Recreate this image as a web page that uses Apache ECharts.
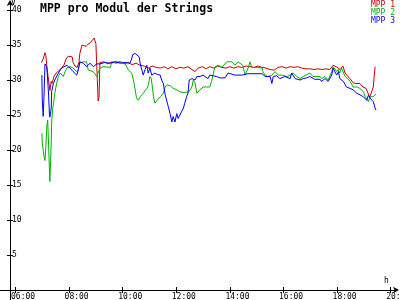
<!DOCTYPE html>
<html><head><meta charset="utf-8">
<script src="https://cdn.jsdelivr.net/npm/echarts@6/dist/echarts.min.js"></script>
<style>html,body{margin:0;padding:0;background:#fff}#c{width:400px;height:300px}</style>
</head><body><div id="c"></div>
<script>
// time in minutes since midnight, values in V
const redTime = [418,422,426,428,430,433,435,437,440,442,446,451,455,460,464,469,473,478,482,487,489,493,498,502,504,509,513,518,522,527,531,536,538,540,542,545,547,549,558,567,576,585,594,603,612,621,630,639,648,657,666,675,684,693,701,710,719,728,737,746,755,762,769,778,787,795,804,813,822,831,840,849,858,867,876,885,894,903,912,921,930,939,948,957,966,975,984,992,1001,1010,1019,1028,1037,1046,1055,1064,1071,1078,1087,1093,1098,1104,1109,1116,1122,1131,1138,1145,1149,1153,1157,1161,1165];
const redVal  = [32.5,33.0,33.9,33.5,32.0,30.5,29.5,28.5,29.8,29.5,30.5,31.0,31.2,31.5,31.8,32.2,33.0,33.4,33.6,33.3,32.5,32.0,31.8,32.5,33.8,35.0,35.0,34.8,35.1,35.3,35.6,36.0,35.8,35.2,32.0,27.0,27.5,32.5,32.6,32.3,32.6,32.4,32.6,32.3,32.5,32.2,32.4,32.1,32.0,31.7,32.0,31.8,31.7,31.9,31.6,31.9,31.6,31.8,31.7,31.9,31.5,31.2,31.7,31.9,31.6,31.9,31.7,32.0,31.8,31.7,31.9,31.7,31.9,31.8,32.0,31.9,31.8,32.0,31.8,31.7,31.5,31.4,31.8,31.9,31.7,31.9,31.8,31.9,31.7,31.6,31.6,31.5,31.6,31.5,31.6,31.5,32.1,31.9,31.5,32.0,31.0,30.5,30.2,29.6,29.5,29.5,29.0,28.8,28.8,27.5,27.4,29.0,31.9];

const greenTime = [419,420,422,424,426,428,430,432,434,436,437,440,441,443,445,446,448,452,456,460,464,467,471,475,482,489,497,500,504,512,519,523,527,534,542,545,549,556,572,575,583,594,605,613,620,624,628,631,635,639,646,654,657,661,664,669,672,677,684,691,695,699,706,713,721,728,739,748,755,758,762,766,769,773,780,788,795,799,803,807,814,822,833,845,851,858,869,874,878,882,885,889,901,912,914,919,925,934,941,948,957,968,975,981,990,997,1004,1019,1026,1042,1045,1053,1060,1068,1071,1075,1079,1082,1086,1090,1093,1098,1104,1109,1116,1125,1131,1139,1143,1147,1150,1154,1158,1161,1167];
const greenVal  = [22.4,21.0,20.0,19.0,18.5,20.5,23.3,24.3,21.0,17.1,15.5,21.0,24.0,25.7,26.7,27.1,28.1,29.5,30.5,31.0,31.0,30.5,31.2,31.7,31.9,31.7,31.2,31.5,32.4,32.6,32.6,31.4,31.4,31.2,30.5,30.5,31.7,31.9,31.8,32.4,32.6,32.6,32.4,31.4,31.0,30.0,28.6,27.4,27.1,27.6,28.1,28.8,29.2,30.5,30.2,27.6,26.7,27.1,27.6,28.1,29.0,29.3,29.2,28.8,28.6,28.3,28.2,28.3,29.0,30.0,29.6,28.1,27.9,28.6,29.0,29.0,29.0,29.8,31.0,31.9,32.1,31.8,32.6,32.6,32.1,32.6,32.1,30.7,30.7,31.9,32.6,31.8,31.8,31.7,31.2,30.7,30.5,30.7,31.2,30.7,30.7,30.5,30.7,31.0,30.5,30.2,30.5,31.0,30.5,30.5,30.2,30.5,30.0,31.2,31.9,31.9,31.2,31.5,31.0,31.7,31.5,30.5,30.2,29.8,29.0,29.0,28.8,28.3,27.6,27.3,26.9,27.6,27.4,27.6,28.0];

const blueTime = [419,420,422,424,426,430,432,434,436,437,440,441,445,448,452,456,460,463,467,475,482,489,497,501,504,512,519,527,534,542,549,560,572,583,594,605,616,620,622,628,631,637,639,643,646,650,654,657,661,665,669,672,677,684,687,691,695,699,702,706,710,713,717,721,724,728,732,736,739,743,746,749,755,762,766,773,780,791,795,810,818,829,836,851,867,881,896,912,919,930,934,937,945,952,963,975,978,986,997,1004,1012,1019,1030,1042,1045,1053,1060,1064,1068,1071,1075,1079,1083,1086,1090,1094,1101,1109,1116,1124,1131,1139,1146,1150,1154,1157,1161,1165,1167];
const blueVal  = [30.7,27.0,24.8,28.0,32.3,31.9,30.0,28.0,25.0,24.7,26.0,28.4,29.5,30.0,30.2,31.0,31.2,31.7,31.9,32.1,31.7,31.2,30.7,31.5,32.6,32.4,31.9,32.4,31.9,32.3,32.3,32.5,32.4,32.6,32.4,32.5,32.4,33.0,33.6,33.8,33.8,33.3,32.4,31.4,30.7,31.5,32.1,31.0,31.7,30.7,30.5,31.0,30.8,30.7,30.0,29.5,27.9,28.0,26.2,25.2,24.0,24.8,24.0,25.2,24.5,25.0,25.2,26.0,26.7,27.6,28.1,30.0,30.2,30.0,30.5,30.5,30.7,30.2,30.7,30.5,30.3,30.3,31.0,30.7,30.7,30.9,30.9,30.9,30.5,30.5,29.5,30.5,30.6,30.2,30.5,30.2,31.0,30.2,30.0,30.2,30.3,30.5,30.1,30.1,29.8,30.2,29.8,30.0,30.7,31.7,31.5,30.7,31.2,30.2,30.0,29.8,29.0,28.8,28.6,28.1,27.9,27.6,27.1,27.8,27.4,27.6,26.9,26.0,25.7];

const seriesNames = ['MPP 1', 'MPP 2', 'MPP 3'];
const xTickMinutes = [360, 480, 600, 720, 840, 960, 1080, 1200];
const yTickValues = [5, 10, 15, 20, 25, 30, 35, 40];
const titleText = 'MPP pro Modul der Strings';
const yUnit = 'V';
const xUnit = 'h';

const colors = ['#c80000', '#00b400', '#0000ff'];
const FONT = 'DejaVu Sans Mono';
const zip = (t, v) => t.map((x, i) => [x, v[i]]);
const fmtTime = m => String(Math.floor(m / 60)).padStart(2, '0') + ':' + String(m % 60).padStart(2, '0');

const X_MIN = 325.3, X_MAX = 1214.1, Y_MIN = -10 / 7, Y_MAX = 40 + 8 / 7;

const chart = echarts.init(document.getElementById('c'), null, { renderer: 'canvas' });
chart.setOption({
  animation: false,
  backgroundColor: '#fff',
  title: { text: titleText, left: 40, top: 3, padding: 0, textStyle: { fontFamily: FONT, fontSize: 11.5, fontWeight: 'bold', color: '#000' } },
  legend: {
    right: 5, top: 1, padding: 0, orient: 'vertical', itemWidth: 0, itemHeight: 8, itemGap: 0, selectedMode: false,
    textStyle: { fontFamily: FONT, fontSize: 8, lineHeight: 8 },
    data: seriesNames.map((n, i) => ({ name: n, icon: 'rect', itemStyle: { opacity: 0 }, textStyle: { color: colors[i] } }))
  },
  grid: { left: 0, right: 3, top: 2, bottom: 0, containLabel: false, outerBoundsMode: 'none' },
  xAxis: [
    { type: 'value', min: X_MIN, max: X_MAX, position: 'bottom',
      axisLine: { show: true, onZero: true, symbol: ['none', 'arrow'], symbolSize: [5, 6], symbolOffset: [0, 2], lineStyle: { color: '#000', width: 1 } },
      axisTick: { show: true, length: 3, customValues: xTickMinutes, lineStyle: { color: '#000' } },
      axisLabel: { show: true, customValues: xTickMinutes, formatter: v => fmtTime(v), fontFamily: FONT, fontSize: 8, color: '#000', margin: -7, align: 'left', padding: [0, 0, 0, -4.5], hideOverlap: false },
      splitLine: { show: false } },
    { type: 'value', min: X_MIN, max: X_MAX, position: 'bottom',
      axisLine: { show: false, onZero: true },
      axisTick: { show: true, inside: true, length: 3, customValues: xTickMinutes, lineStyle: { color: '#000' } },
      axisLabel: { show: false }, splitLine: { show: false } }
  ],
  yAxis: [
    { type: 'value', min: Y_MIN, max: Y_MAX, position: 'left', offset: -10,
      axisLine: { show: true, onZero: false, symbol: ['none', 'arrow'], symbolSize: [5, 6], symbolOffset: [0, 2], lineStyle: { color: '#000', width: 1 } },
      axisTick: { show: true, length: 3, customValues: yTickValues, lineStyle: { color: '#000' } },
      axisLabel: { show: true, inside: true, customValues: yTickValues, fontFamily: FONT, fontSize: 8, color: '#000', margin: 2, hideOverlap: false },
      splitLine: { show: false } },
    { type: 'value', min: Y_MIN, max: Y_MAX, position: 'left', offset: -10,
      axisLine: { show: false, onZero: false },
      axisTick: { show: true, inside: true, length: 3, customValues: yTickValues, lineStyle: { color: '#000' } },
      axisLabel: { show: false }, splitLine: { show: false } }
  ],
  graphic: [
    { type: 'text', left: 11, top: -1, style: { text: yUnit, font: '8px "' + FONT + '"', fill: '#000' } },
    { type: 'text', left: 384, top: 277, style: { text: xUnit, font: '8px "' + FONT + '"', fill: '#000' } }
  ],
  series: [
    { name: seriesNames[0], type: 'line', data: zip(redTime, redVal), showSymbol: false, lineStyle: { width: 1, color: colors[0] }, itemStyle: { color: colors[0] } },
    { name: seriesNames[1], type: 'line', data: zip(greenTime, greenVal), showSymbol: false, lineStyle: { width: 1, color: colors[1] }, itemStyle: { color: colors[1] } },
    { name: seriesNames[2], type: 'line', data: zip(blueTime, blueVal), showSymbol: false, lineStyle: { width: 1, color: colors[2] }, itemStyle: { color: colors[2] } }
  ]
});
</script>
</body></html>
